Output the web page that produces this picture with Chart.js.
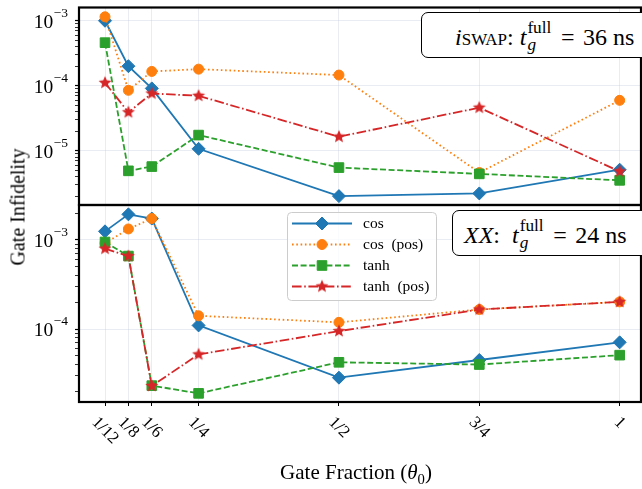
<!DOCTYPE html>
<html>
<head>
<meta charset="utf-8">
<script src="https://cdn.jsdelivr.net/npm/chart.js@4.4.1/dist/chart.umd.min.js"></script>
<style>
  body { margin: 0; background: #fff; }
  #wrap { position: relative; width: 642px; height: 489px; overflow: hidden; background: #fff;
          font-family: 'Liberation Serif', 'DejaVu Serif', serif; color: #000; }
  #wrap canvas { position: absolute; left: 0; top: 0; }
  .note { position: absolute; border: 1.3px solid #000; border-radius: 7px; background: #fff;
          box-sizing: border-box; font-size: 24px; white-space: nowrap; }
  .note .txt { position: absolute; line-height: 1.15; }
  .ss { display: inline-block; vertical-align: -0.3em; line-height: 1.0; font-size: 0.72em; margin-left: 1px; }
  .ss span { display: block; }
  .sc { font-variant: small-caps; }
  .eq { margin: 0 0.35em 0 0.4em; }
  #ylab { position: absolute; left: 18px; top: 207px; transform: translate(-50%, -50%) rotate(-90deg);
          font-size: 20px; white-space: nowrap; }
  #xlab { position: absolute; left: 356px; top: 474px; transform: translate(-50%, -50%);
          font-size: 21px; white-space: nowrap; }
  #xlab sub { font-size: 0.7em; }
</style>
</head>
<body>
<div id="wrap">
  <canvas id="topChart" width="642" height="489"></canvas>
  <canvas id="bottomChart" width="642" height="489"></canvas>
  <div class="note" style="left:421px; top:12px; width:240px; height:46px;">
    <span class="txt" style="left:33px; top:6px;"><i>i</i><span class="sc">swap</span>:&nbsp;<i>t</i><span class="ss"><span>full</span><span><i>g</i></span></span><span class="eq">=</span>36&nbsp;ns</span>
  </div>
  <div class="note" style="left:452px; top:210px; width:220px; height:46px;">
    <span class="txt" style="left:11px; top:6px;"><i>XX</i>:&nbsp;&nbsp;<i>t</i><span class="ss"><span>full</span><span><i>g</i></span></span><span class="eq">=</span>24&nbsp;ns</span>
  </div>
  <div id="ylab">Gate Infidelity</div>
  <div id="xlab">Gate Fraction (<i>θ</i><sub>0</sub>)</div>
</div>
<script>
// gate fractions on the shared x axis
const xVals = [1/12, 1/8, 1/6, 1/4, 1/2, 3/4, 1];
const xLabels = ['1/12', '1/8', '1/6', '1/4', '1/2', '3/4', '1'];
const seriesNames = ['cos', 'cos  (pos)', 'tanh', 'tanh  (pos)'];

// iSWAP panel (t_g = 36 ns)
const iswapCos     = [1.0e-3, 2.0e-4, 9.1e-5, 1.07e-5, 2.0e-6, 2.2e-6, 5.1e-6];
const iswapCosPos  = [1.15e-3, 8.5e-5, 1.66e-4, 1.8e-4, 1.46e-4, 4.6e-6, 5.96e-5];
const iswapTanh    = [4.6e-4, 4.9e-6, 5.7e-6, 1.74e-5, 5.5e-6, 4.4e-6, 3.5e-6];
const iswapTanhPos = [1.11e-4, 3.9e-5, 7.6e-5, 7.0e-5, 1.64e-5, 4.6e-5, 4.8e-6];

// XX panel (t_g = 24 ns)
const xxCos     = [1.25e-3, 1.94e-3, 1.74e-3, 1.1e-4, 2.85e-5, 4.5e-5, 7.1e-5];
const xxCosPos  = [9.2e-4, 1.33e-3, 1.74e-3, 1.41e-4, 1.19e-4, 1.66e-4, 2.02e-4];
const xxTanh    = [9.5e-4, 6.6e-4, 2.32e-5, 1.9e-5, 4.24e-5, 4.0e-5, 5.1e-5];
const xxTanhPos = [8.0e-4, 6.6e-4, 2.3e-5, 5.2e-5, 9.5e-5, 1.66e-4, 2.02e-4];

const SERIF = "'Liberation Serif', 'DejaVu Serif', serif";
const gridColor = 'rgba(176, 190, 210, 0.35)';

// filled five point star, used as a point image
function makeStar(r, color) {
  const c = document.createElement('canvas');
  c.width = c.height = Math.ceil(2 * r + 2);
  const g = c.getContext('2d');
  g.beginPath();
  for (let i = 0; i < 10; i++) {
    const a = -Math.PI / 2 + i * Math.PI / 5;
    const rr = i % 2 ? r * 0.45 : r;
    g.lineTo(c.width / 2 + rr * Math.cos(a), c.height / 2 + rr * Math.sin(a));
  }
  g.closePath();
  g.fillStyle = color;
  g.fill();
  return c;
}

const styles = [
  { color: '#1f77b4', dash: [], point: 'rectRot', r: 6.5 },
  { color: '#ff7f0e', dash: [1.6, 2.7], point: 'circle', r: 5 },
  { color: '#2ca02c', dash: [6, 2.6], point: 'rect', r: 6.8 },
  { color: '#d62728', dash: [9.6, 2.6, 1.6, 2.6], point: makeStar(6.8, '#d62728'), r: 6.8 },
];

function makeSets(series) {
  return series.map((vals, i) => ({
    label: seriesNames[i],
    data: vals.map((y, j) => ({ x: xVals[j], y })),
    borderColor: styles[i].color,
    backgroundColor: styles[i].color,
    borderWidth: 1.8,
    borderDash: styles[i].dash,
    pointStyle: styles[i].point,
    pointRadius: styles[i].r,
    pointBorderWidth: 1,
    pointBorderColor: styles[i].color,
    pointBackgroundColor: styles[i].color,
    tension: 0,
    fill: false,
    order: 4 - i,
  }));
}

function logTicks(min, max) {
  const t = [];
  for (let e = Math.floor(Math.log10(min)); e <= Math.ceil(Math.log10(max)); e++) {
    for (let m = 1; m < 10; m++) {
      const v = m * Math.pow(10, e);
      if (v >= min && v <= max) t.push({ value: v, major: m === 1 });
    }
  }
  return t;
}

// frame around the plot area
const framePlugin = {
  id: 'frame',
  afterDraw(chart) {
    const { ctx, chartArea: a } = chart;
    ctx.save();
    ctx.strokeStyle = '#000';
    ctx.lineWidth = 2.2;
    ctx.strokeRect(a.left, a.top, a.right - a.left, a.bottom - a.top);
    ctx.restore();
  }
};

// 10^n labels with real superscripts
const yLabelPlugin = {
  id: 'yLabels',
  afterDraw(chart) {
    const s = chart.scales.y, ctx = chart.ctx;
    ctx.save();
    ctx.fillStyle = '#000';
    ctx.textAlign = 'right';
    ctx.textBaseline = 'alphabetic';
    s.ticks.filter(t => t.major).forEach(t => {
      const y = s.getPixelForValue(t.value);
      const sup = '\u2212' + Math.abs(Math.round(Math.log10(t.value)));
      ctx.font = '13.5px ' + SERIF;
      const w = ctx.measureText(sup).width;
      ctx.fillText(sup, 68, y - 4);
      ctx.font = '19.5px ' + SERIF;
      ctx.fillText('10', 68 - w - 0.5, y + 7);
    });
    ctx.restore();
  }
};

// rotated fraction labels under the bottom panel
const xLabelPlugin = {
  id: 'xLabels',
  afterDraw(chart) {
    const s = chart.scales.x, ctx = chart.ctx;
    ctx.save();
    ctx.fillStyle = '#000';
    ctx.font = '17px ' + SERIF;
    ctx.textAlign = 'center';
    ctx.textBaseline = 'middle';
    xVals.forEach((v, i) => {
      const px = s.getPixelForValue(v);
      const w = ctx.measureText(xLabels[i]).width;
      const h = (w + 11) * Math.SQRT1_2;
      ctx.save();
      ctx.translate(px, 416 + h / 2);
      ctx.rotate(Math.PI / 4);
      ctx.fillText(xLabels[i], 0, 0);
      ctx.restore();
    });
    ctx.restore();
  }
};

const legendPlugin = {
  id: 'boxLegend',
  afterDatasetsDraw(chart) {
    const ctx = chart.ctx;
    const x0 = 287.5, y0 = 212.5, w = 149, h = 88, r = 4;
    ctx.save();
    ctx.beginPath();
    ctx.moveTo(x0 + r, y0);
    ctx.arcTo(x0 + w, y0, x0 + w, y0 + h, r);
    ctx.arcTo(x0 + w, y0 + h, x0, y0 + h, r);
    ctx.arcTo(x0, y0 + h, x0, y0, r);
    ctx.arcTo(x0, y0, x0 + w, y0, r);
    ctx.closePath();
    ctx.fillStyle = 'rgba(255,255,255,0.8)';
    ctx.fill();
    ctx.strokeStyle = '#cccccc';
    ctx.lineWidth = 1;
    ctx.stroke();
    chart.data.datasets.forEach((d, i) => {
      const y = 223.5 + i * 21;
      ctx.strokeStyle = d.borderColor;
      ctx.fillStyle = d.backgroundColor;
      ctx.lineWidth = d.borderWidth;
      ctx.setLineDash(d.borderDash);
      ctx.beginPath();
      ctx.moveTo(292, y);
      ctx.lineTo(352, y);
      ctx.stroke();
      ctx.setLineDash([]);
      ctx.lineWidth = 1;
      Chart.helpers.drawPoint(ctx, { pointStyle: d.pointStyle, radius: d.pointRadius, borderWidth: 1, rotation: 0 }, 322, y);
      ctx.fillStyle = '#000';
      ctx.font = '15.5px ' + SERIF;
      ctx.textAlign = 'left';
      ctx.textBaseline = 'middle';
      ctx.fillText(d.label, 363, y);
    });
    ctx.restore();
  }
};

function makeOptions(ymin, ymax, padding, isBottom) {
  return {
    responsive: false,
    animation: false,
    devicePixelRatio: 1,
    layout: { padding, autoPadding: false },
    plugins: { legend: { display: false }, tooltip: { enabled: false } },
    scales: {
      x: {
        type: 'linear',
        min: 0.037,
        max: 1.038,
        afterBuildTicks: s => { s.ticks = xVals.map(v => ({ value: v })); },
        afterFit: s => { s.height = isBottom ? 87 : 0; s.paddingLeft = 0; s.paddingRight = 0; },
        ticks: { display: isBottom, callback: () => '', autoSkip: false, maxRotation: 0 },
        grid: { color: gridColor, lineWidth: 0.8, drawTicks: isBottom, tickLength: 4, tickColor: '#000', tickWidth: 1 },
        border: { display: false },
      },
      y: {
        type: 'logarithmic',
        min: ymin,
        max: ymax,
        afterBuildTicks: s => { s.ticks = logTicks(ymin, ymax); },
        afterFit: s => { s.width = 79; s.paddingTop = 0; s.paddingBottom = 0; },
        ticks: { callback: () => '', autoSkip: false },
        grid: {
          color: c => (c.tick && c.tick.major ? gridColor : 'rgba(0,0,0,0)'),
          lineWidth: 0.8,
          tickLength: 4,
          tickColor: '#000',
          tickWidth: c => (c.tick && c.tick.major ? 1.2 : 0.8),
        },
        border: { display: false },
      },
    },
  };
}

new Chart(document.getElementById('topChart'), {
  type: 'line',
  data: { datasets: makeSets([iswapCos, iswapCosPos, iswapTanh, iswapTanhPos]) },
  options: makeOptions(1.46e-6, 1.6e-3, { top: 7.5, left: 0, right: 1, bottom: 284 }, false),
  plugins: [framePlugin, yLabelPlugin],
});

new Chart(document.getElementById('bottomChart'), {
  type: 'line',
  data: { datasets: makeSets([xxCos, xxCosPos, xxTanh, xxTanhPos]) },
  options: makeOptions(1.52e-5, 2.47e-3, { top: 205, left: 0, right: 1, bottom: 0 }, true),
  plugins: [framePlugin, yLabelPlugin, xLabelPlugin, legendPlugin],
});
</script>
</body>
</html>
